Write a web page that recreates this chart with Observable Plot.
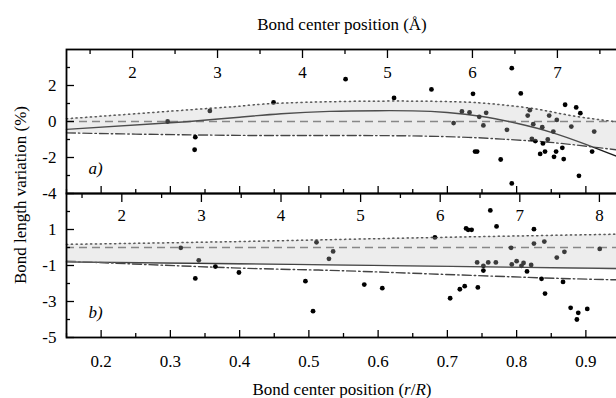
<!DOCTYPE html>
<html><head><meta charset="utf-8">
<script src="https://cdn.jsdelivr.net/npm/d3@7"></script>
<script src="https://cdn.jsdelivr.net/npm/@observablehq/plot@0.6"></script>
<style>
body{margin:0;background:#fff;}
#wrap{position:relative;width:616px;height:398px;overflow:hidden;background:#fff;font-family:"Liberation Serif","Times New Roman",serif;color:#000;}
#wrap svg{max-width:none !important;}
#wrap svg, #wrap svg text{font-family:"Liberation Serif","Times New Roman",serif !important;}
.abs{position:absolute;font-size:17px;line-height:20px;white-space:nowrap;text-align:center;}
</style></head><body>
<div id="wrap">
  <div class="abs" style="left:192px;width:300px;top:15px;">Bond center position (Å)</div>
  <div id="pa" class="abs" style="left:0;top:0;"></div>
  <div id="pb" class="abs" style="left:0;top:193px;"></div>
  <div class="abs" style="left:192px;width:300px;top:380px;">Bond center position (<i>r</i>/<i>R</i>)</div>
  <div class="abs" style="left:-129px;width:300px;top:185px;transform:rotate(-90deg);">Bond length variation (%)</div>
</div>
<script>
// ---------- shared axes ----------
const xDomain = [0.15, 0.95];
const xMajor = [0.2, 0.3, 0.4, 0.5, 0.6, 0.7, 0.8, 0.9];
const xMinor = [0.15, 0.25, 0.35, 0.45, 0.55, 0.65, 0.75, 0.85, 0.95];
const refLevel = [0];

// ---------- panel a ----------
const aRadius = 8.15;               // Å per unit r/R (top axis)
const aAngMajor = [2, 3, 4, 5, 6, 7];
const aAngMinor = [1.5, 2.5, 3.5, 4.5, 5.5, 6.5, 7.5];
const aYDomain = [-4, 4];
const aYMajor = [-4, -2, 0, 2];
const aYMinor = [-3, -1, 1, 3];
const aDotR = [0.296,0.336,0.335,0.357,0.449,0.553,0.623,0.677,0.793,0.737,0.806,0.721,0.732,0.709,0.746,0.756,0.752,0.740,0.743,0.777,0.786,0.793,0.819,0.816,0.824,0.822,0.827,0.834,0.838,0.841,0.837,0.845,0.847,0.853,0.854,0.858,0.857,0.866,0.868,0.870,0.879,0.886,0.892,0.890,0.909,0.912];
const aDotV = [0.0,-0.87,-1.57,0.59,1.06,2.35,1.31,1.78,2.96,1.54,1.56,0.56,0.50,-0.09,0.26,0.48,-0.22,-1.67,-1.67,-2.11,-0.46,-3.44,0.63,0.33,-0.15,-0.96,-1.09,-1.80,-1.22,-1.67,-0.32,-1.00,0.33,-0.56,-1.96,0.09,-1.67,-1.46,-2.09,0.93,-0.28,0.78,0.46,-3.02,-1.67,-0.56];
const aSolidR = [0.15,0.30,0.40,0.46,0.53,0.60,0.65,0.70,0.75,0.80,0.85,0.90,0.95];
const aSolidV = [-0.44,-0.07,0.24,0.43,0.56,0.60,0.59,0.50,0.28,-0.10,-0.60,-1.27,-2.02];
const aBandR  = [0.15,0.25,0.35,0.40,0.45,0.55,0.65,0.73,0.78,0.83,0.88,0.95];
const aUpperV = [0.15,0.43,0.71,0.85,1.00,1.11,1.13,1.07,0.92,0.68,0.32,-0.05];
const aLowerV = [-0.63,-0.70,-0.75,-0.77,-0.78,-0.78,-0.80,-0.88,-0.98,-1.10,-1.28,-1.60];

// ---------- panel b ----------
const bRadius = 8.7;
const bAngMajor = [2, 3, 4, 5, 6, 7, 8];
const bAngMinor = [1.5, 2.5, 3.5, 4.5, 5.5, 6.5, 7.5];
const bYDomain = [-5, 3];
const bYMajor = [-5, -3, -1, 1];
const bYMinor = [-4, -2, 0, 2];
const bDotR = [0.315,0.341,0.336,0.365,0.399,0.495,0.506,0.511,0.535,0.529,0.580,0.606,0.682,0.762,0.771,0.727,0.730,0.735,0.825,0.825,0.840,0.792,0.920,0.869,0.858,0.743,0.752,0.752,0.759,0.770,0.793,0.800,0.807,0.810,0.815,0.821,0.836,0.867,0.841,0.704,0.718,0.725,0.744,0.878,0.889,0.887,0.902];
const bDotV = [-0.02,-0.71,-1.72,-1.06,-1.39,-1.87,-3.54,0.29,-0.22,-0.63,-2.06,-2.26,0.56,2.06,1.17,1.06,0.98,0.98,1.02,0.22,0.33,-0.02,-0.08,-0.24,-0.56,-0.83,-1.02,-1.28,-0.83,-0.83,-0.94,-0.76,-1.02,-0.86,-1.33,-0.97,-1.74,-1.91,-2.56,-2.82,-2.32,-2.15,-2.22,-3.35,-3.63,-4.0,-3.41];
const bSolidR = [0.15,0.40,0.65,0.95];
const bSolidV = [-0.80,-0.90,-1.02,-1.17];
const bDashDotR = [0.15,0.39,0.52,0.65,0.84,0.95];
const bDashDotV = [-0.76,-1.13,-1.26,-1.43,-1.69,-1.80];
const bBandR  = [0.15,0.40,0.65,0.95];
const bUpperV = [0.17,0.33,0.53,0.74];
const bLowerV = [-0.85,-0.95,-1.08,-1.25];

const zip = (xs, ys) => xs.map((x, i) => ({x, y: ys[i]}));
const zipBand = (xs, lo, hi) => xs.map((x, i) => ({x, lo: lo[i], hi: hi[i]}));
const serif = '"Liberation Serif","Times New Roman",serif';
const baseStyle = {fontFamily: serif, fontSize: "17px", overflow: "visible", background: "transparent", color: "#000"};

function panel({height, marginTop, marginBottom, yDomain, yMajor, yMinor, radius, angMajor, angMinor,
                dots, solid, dotted, dashdot, band, tag, bottomLabels, angDy}) {
  const ax = {label: null, strokeWidth: 1.3, fontFamily: serif, fontSize: 17};
  const marks = [
    Plot.ruleY(refLevel, {stroke: "#6e6e6e", strokeWidth: 1.4, strokeDasharray: "8,5"}),
    Plot.line(solid, {x: "x", y: "y", curve: "natural", stroke: "#1a1a1a", strokeWidth: 1.4}),
    Plot.line(dotted, {x: "x", y: "y", curve: "natural", stroke: "#333", strokeWidth: 1.5, strokeDasharray: "1.2,3.6", strokeLinecap: "round"}),
    Plot.line(dashdot, {x: "x", y: "y", curve: "natural", stroke: "#444", strokeWidth: 1.4, strokeDasharray: "9,3,1.5,3"}),
    Plot.dot(dots, {x: "x", y: "y", r: 2.4, fill: "#000"}),
    Plot.areaY(band, {x: "x", y1: "lo", y2: "hi", curve: "natural", fill: "#c2c2c2", fillOpacity: 0.3}),
    Plot.frame({stroke: "#000", strokeWidth: 1.8}),
    Plot.axisY(yMajor, {...ax, anchor: "left", tickSize: -8, tickPadding: 18, tickFormat: d => String(d)}),
    Plot.axisY(yMinor, {...ax, anchor: "left", tickSize: -4, tickFormat: () => ""}),
    Plot.axisX(angMajor.map(a => a / radius), {...ax, anchor: "top", tickSize: -8, tickFormat: () => ""}),
    Plot.axisX(angMinor.map(a => a / radius), {...ax, anchor: "top", tickSize: -4, tickFormat: () => ""}),
    Plot.text(angMajor, {x: a => a / radius, text: a => String(a), frameAnchor: "top", dy: angDy, lineAnchor: "middle", fontSize: 17, fontFamily: serif}),
    Plot.axisX(xMajor, {...ax, anchor: "bottom", tickSize: -7, tickPadding: 24.5, tickFormat: bottomLabels ? (d => d.toFixed(1)) : (() => "")}),
    Plot.axisX(xMinor, {...ax, anchor: "bottom", tickSize: -4, tickFormat: () => ""}),
    Plot.text([tag], {text: d => d, frameAnchor: "bottom-left", dx: 22, dy: -25, lineAnchor: "middle", fontStyle: "italic", fontSize: 17, fontFamily: serif})
  ];
  return Plot.plot({
    width: 620, height, marginLeft: 66, marginRight: 0, marginTop, marginBottom,
    x: {domain: xDomain}, y: {domain: yDomain},
    style: baseStyle,
    marks
  });
}

document.getElementById("pa").appendChild(panel({
  height: 193, marginTop: 49, marginBottom: 0, yDomain: aYDomain, yMajor: aYMajor, yMinor: aYMinor,
  radius: aRadius, angMajor: aAngMajor, angMinor: aAngMinor,
  dots: zip(aDotR, aDotV), solid: zip(aSolidR, aSolidV),
  dotted: zip(aBandR, aUpperV), dashdot: zip(aBandR, aLowerV),
  band: zipBand(aBandR, aLowerV, aUpperV), tag: "a)", bottomLabels: false, angDy: 23
}));
document.getElementById("pb").appendChild(panel({
  height: 205, marginTop: 0, marginBottom: 61, yDomain: bYDomain, yMajor: bYMajor, yMinor: bYMinor,
  radius: bRadius, angMajor: bAngMajor, angMinor: bAngMinor,
  dots: zip(bDotR, bDotV), solid: zip(bSolidR, bSolidV),
  dotted: zip(bBandR, bUpperV), dashdot: zip(bDashDotR, bDashDotV),
  band: zipBand(bBandR, bLowerV, bUpperV), tag: "b)", bottomLabels: true, angDy: 22
}));
</script>
</body></html>
